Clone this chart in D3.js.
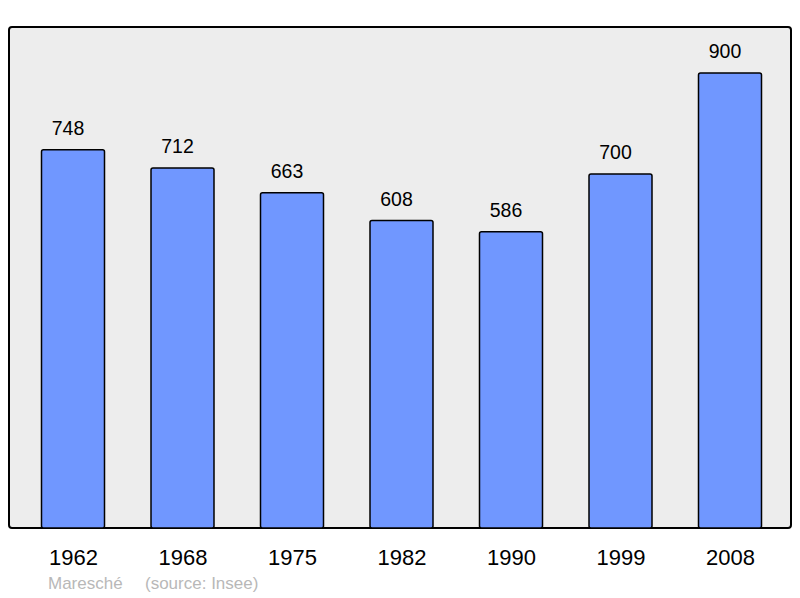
<!DOCTYPE html>
<html>
<head>
<meta charset="utf-8">
<script src="https://cdn.jsdelivr.net/npm/d3@7"></script>
<style>
  body { margin: 0; background: #fff; }
  text { font-family: "Liberation Sans", Arial, sans-serif; }
</style>
</head>
<body>
<div id="chart"></div>
<script>
// population data
const years = ["1962", "1968", "1975", "1982", "1990", "1999", "2008"]
const population = [748, 712, 663, 608, 586, 700, 900]
const footerName = "Maresché"
const footerSource = "(source: Insee)"

let svg = d3.select("#chart")
            .append("svg")
                .attr("width", 800)
                .attr("height", 598)

// frame
svg.append("rect")
    .attr("x", 9).attr("y", 27)
    .attr("width", 782).attr("height", 501)
    .attr("rx", 3)
    .attr("fill", "#ededed")
    .attr("stroke", "#000")
    .attr("stroke-width", 2)

let x = d3.scalePoint()
            .domain(years)
            .range([73, 730])
let y = d3.scaleLinear()
            .domain([0, 900])
            .range([528, 73])
let barW = 63

let data = years.map((yr, i) => ({ year: yr, value: population[i] }))

svg.selectAll("rect.bar")
    .data(data)
    .enter().append("rect")
        .attr("class", "bar")
        .attr("x", d => x(d.year) - barW / 2)
        .attr("y", d => y(d.value))
        .attr("width", barW)
        .attr("height", d => y(0) - y(d.value))
        .attr("rx", 2)
        .attr("fill", "#7097ff")
        .attr("stroke", "#000")
        .attr("stroke-width", 1.5)

// value labels sit slightly left of the bar centre in the original
svg.selectAll("text.val")
    .data(data)
    .enter().append("text")
        .attr("class", "val")
        .attr("x", d => x(d.year) - 5)
        .attr("y", d => y(d.value) - 15)
        .attr("text-anchor", "middle")
        .attr("font-size", 19.5)
        .text(d => d.value)

// x axis labels
let axis = d3.axisBottom(x).tickSize(0).tickPadding(0)
let gx = svg.append("g")
            .attr("transform", "translate(0,549)")
            .call(axis)
gx.select(".domain").remove()
gx.selectAll("text")
    .attr("font-size", 22)
    .attr("font-family", "Liberation Sans, Arial, sans-serif")
    .attr("fill", "#000")

// footer
svg.append("text")
    .attr("x", 48).attr("y", 589)
    .attr("font-size", 17)
    .attr("fill", "#b8b8b8")
    .text(footerName)
svg.append("text")
    .attr("x", 145).attr("y", 589)
    .attr("font-size", 17)
    .attr("fill", "#b8b8b8")
    .text(footerSource)
</script>
</body>
</html>
